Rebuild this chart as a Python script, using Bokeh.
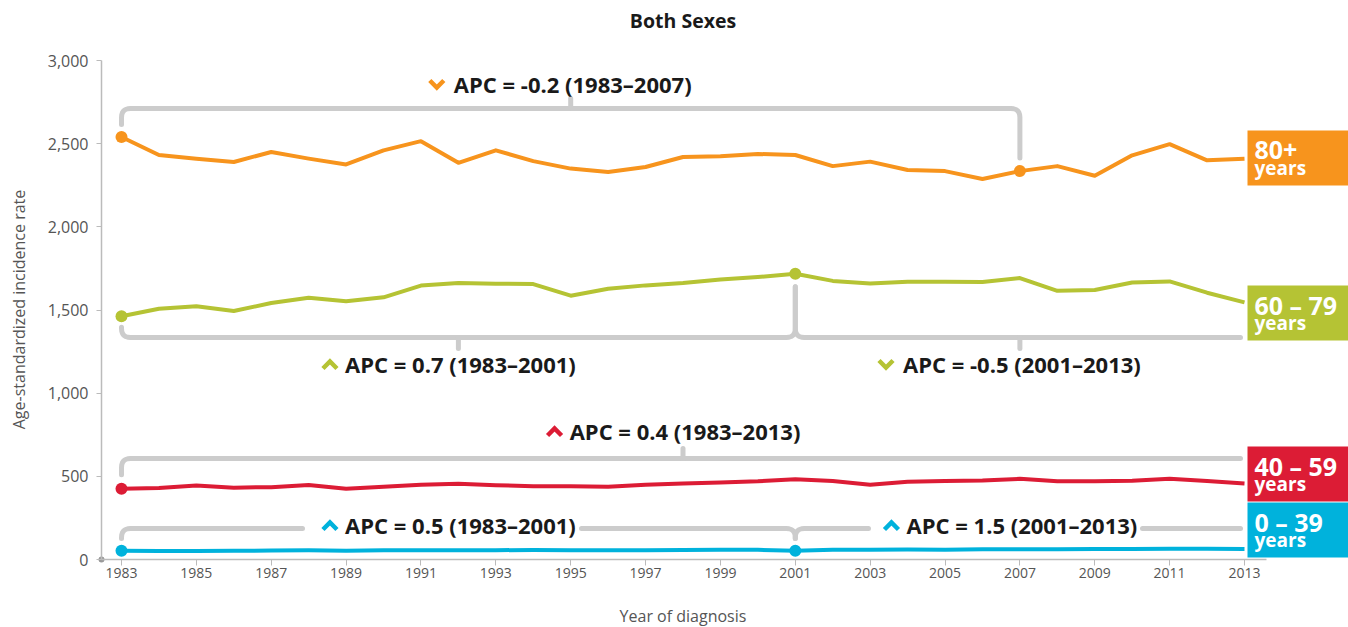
from math import hypot, pi
from bokeh.plotting import figure
from bokeh.models import Range1d, FixedTicker, NumeralTickFormatter
from bokeh.core.properties import value
from bokeh.embed import file_html
from bokeh.resources import INLINE

# ---------------- data ----------------
years = list(range(1983, 2014))
rate_80_plus = [2540, 2432, 2410, 2390, 2450, 2410, 2375, 2460, 2515, 2385, 2460, 2395,
                2350, 2330, 2360, 2420, 2425, 2438, 2432, 2365, 2392, 2342, 2335, 2288,
                2335, 2365, 2307, 2430, 2497, 2400, 2410]
rate_60_79 = [1462, 1508, 1522, 1494, 1542, 1574, 1552, 1576, 1647, 1662, 1658, 1656,
              1586, 1628, 1648, 1662, 1683, 1698, 1718, 1675, 1660, 1670, 1670, 1668,
              1692, 1615, 1620, 1665, 1672, 1604, 1546]
rate_40_59 = [425, 430, 445, 432, 435, 448, 425, 437, 450, 455, 447, 440, 441, 437, 450,
              457, 463, 470, 482, 472, 450, 467, 472, 475, 485, 470, 470, 473, 485, 472, 457]
rate_0_39 = [52, 51, 51, 52, 54, 55, 53, 55, 56, 55, 56, 57, 56, 55, 56, 57, 58, 58, 53,
             58, 59, 60, 59, 61, 61, 62, 63, 63, 64, 64, 63]

age_groups = ["80+", "60 \u2013 79", "40 \u2013 59", "0 \u2013 39"]
group_colors = ["#F7941D", "#B5C334", "#DC1C35", "#00B2DC"]
group_rates = [rate_80_plus, rate_60_79, rate_40_59, rate_0_39]

# APC segments
apc_group = [0, 1, 1, 2, 3, 3]
apc_start = [1983, 1983, 2001, 1983, 1983, 2001]
apc_end = [2007, 2001, 2013, 2013, 2001, 2013]
apc_value = [-0.2, 0.7, -0.5, 0.4, 0.5, 1.5]
joinpoints = [[1983, 2007], [1983, 2001], [1983], [1983, 2001]]

x_ticks = list(range(1983, 2014, 2))
y_ticks = [0, 500, 1000, 1500, 2000, 2500, 3000]

chart_title = "Both Sexes"
x_title = "Year of diagnosis"
y_title = "Age-standardized incidence rate"

# ---------------- geometry helpers (canvas pixel frame) ----------------
W, H = 1348, 627
PXY = (1244 - 121) / 30.0      # px per year
PYU = 499 / 3000.0             # px per unit


def px_to_x(px):
    return 1983 + (px - 121) / PXY


def py_to_y(py):
    return (559 - py) / PYU


def x_to_px(x):
    return 121 + (x - 1983) * PXY


def y_to_py(y):
    return 559 - y * PYU


AXIS_X0 = px_to_x(101)
AXIS_X1 = px_to_x(1266)


def rate_at(gi, yr):
    return group_rates[gi][years.index(yr)]


def rounded(points, r=7, n=6):
    out = [points[0]]
    for i in range(1, len(points) - 1):
        ax, ay = points[i - 1]
        cx, cy = points[i]
        bx, by = points[i + 1]
        la = hypot(ax - cx, ay - cy)
        lb = hypot(bx - cx, by - cy)
        rr = min(r, la * 0.9, lb * 0.9)
        sx, sy = cx + (ax - cx) / la * rr, cy + (ay - cy) / la * rr
        ex, ey = cx + (bx - cx) / lb * rr, cy + (by - cy) / lb * rr
        for k in range(n + 1):
            t = k / n
            qx = (1 - t) ** 2 * sx + 2 * (1 - t) * t * cx + t * t * ex
            qy = (1 - t) ** 2 * sy + 2 * (1 - t) * t * cy + t * t * ey
            out.append((qx, qy))
    out.append(points[-1])
    return [px_to_x(p[0]) for p in out], [py_to_y(p[1]) for p in out]


# ---------------- figure ----------------
p = figure(width=W, height=H, output_backend="svg", toolbar_location=None,
           x_range=Range1d(px_to_x(0), px_to_x(W)), y_range=Range1d(py_to_y(H), py_to_y(0)),
           min_border_left=0, min_border_right=0, min_border_top=0, min_border_bottom=0)
p.outline_line_color = None
p.grid.visible = False
p.background_fill_color = "white"
p.border_fill_color = "white"

axis_gray = "#BBBBBB"
label_gray = "#555555"
for ax in (p.xaxis[0], p.yaxis[0]):
    ax.axis_line_color = axis_gray
    ax.axis_line_width = 1.5
    ax.major_tick_line_color = axis_gray
    ax.major_tick_line_width = 1
    ax.minor_tick_line_color = None
    ax.major_tick_in = 0
    ax.major_label_text_font = "Open Sans"
    ax.major_label_text_color = label_gray
    ax.axis_label_text_font = "Open Sans"
    ax.axis_label_text_font_style = "normal"
    ax.axis_label_text_color = label_gray
    ax.axis_label_text_font_size = "16px"

p.xaxis.fixed_location = 0
p.xaxis.ticker = FixedTicker(ticks=x_ticks)
p.xaxis.bounds = (AXIS_X0, AXIS_X1)
p.xaxis.major_tick_out = 6
p.xaxis.major_label_standoff = 2
p.xaxis.major_label_text_font_size = "14px"

p.yaxis.fixed_location = AXIS_X0
p.yaxis.ticker = FixedTicker(ticks=y_ticks)
p.yaxis.bounds = (0, 3000)
p.yaxis.formatter = NumeralTickFormatter(format="0,0")
p.yaxis.major_tick_out = 5
p.yaxis.major_label_standoff = 8
p.yaxis.major_label_text_font_size = "16px"

TXT = dict(text_font=value("Open Sans"))

# title and axis titles
p.text([px_to_x(682.5)], [py_to_y(19.5)], text=[chart_title], text_align="center",
       text_baseline="middle", text_font_style="bold", text_font_size="19.5px",
       text_color="#1a1a1a", **TXT)
p.text([px_to_x(682.5)], [py_to_y(615)], text=[x_title], text_align="center",
       text_baseline="middle", text_font_size="16px", text_color=label_gray, **TXT)
p.text([px_to_x(18.5)], [py_to_y(309)], text=[y_title], text_align="center",
       text_baseline="middle", text_font_size="16px", text_color=label_gray,
       angle=pi / 2, **TXT)

# origin marker
p.scatter([AXIS_X0], [0], size=6, fill_color="#999999", line_color=None)

# ---------------- brackets ----------------
BR = dict(line_color="#CCCCCC", line_width=5, line_cap="round", line_join="round")
paths = []
# 80+
lvl = 108
paths.append([(x_to_px(1983), 124), (x_to_px(1983), lvl), (x_to_px(2007), lvl),
              (x_to_px(2007), y_to_py(rate_at(0, 2007)) - 13)])
paths.append([(x_to_px(1995), lvl), (x_to_px(1995), lvl - 10)])
# 60-79
lvl = 337
paths.append([(x_to_px(1983), y_to_py(rate_at(1, 1983)) + 11), (x_to_px(1983), lvl),
              (x_to_px(2001), lvl), (x_to_px(2001), y_to_py(rate_at(1, 2001)) + 13)])
paths.append([(x_to_px(2001), y_to_py(rate_at(1, 2001)) + 13), (x_to_px(2001), lvl), (1240, lvl)])
paths.append([(x_to_px(1992), lvl), (x_to_px(1992), lvl + 11)])
paths.append([(x_to_px(2007), lvl), (x_to_px(2007), lvl + 11)])
# 40-59
lvl = 458
paths.append([(x_to_px(1983), y_to_py(rate_at(2, 1983)) - 14), (x_to_px(1983), lvl), (1240, lvl)])
paths.append([(x_to_px(1998), lvl), (x_to_px(1998), lvl - 10)])
# 0-39
lvl = 528
paths.append([(x_to_px(1983), 538), (x_to_px(1983), lvl), (302, lvl)])
paths.append([(581, lvl), (x_to_px(2001), lvl), (x_to_px(2001), 538)])
paths.append([(x_to_px(2001), 538), (x_to_px(2001), lvl), (868, lvl)])
paths.append([(1142, lvl), (1240, lvl)])

for pts in paths:
    xs, ys = rounded(pts, r=9)
    p.line(xs, ys, **BR)

# ---------------- series lines ----------------
for gi, rates in enumerate(group_rates):
    p.line(years, rates, line_color=group_colors[gi], line_width=4, line_join="round")
    jy = [rate_at(gi, y) for y in joinpoints[gi]]
    p.scatter(joinpoints[gi], jy, size=12, fill_color=group_colors[gi], line_color=None)

# ---------------- APC labels ----------------
label_dy = [-25, 26, 26, -28, -4, -4]
levels = [108, 337, 337, 458, 528, 528]
for k in range(len(apc_value)):
    gi = apc_group[k]
    txt = "APC = %s (%d\u2013%d)" % (apc_value[k], apc_start[k], apc_end[k])
    cx = (x_to_px(apc_start[k]) + x_to_px(apc_end[k])) / 2 + 2
    cy = levels[k] + label_dy[k]
    p.text([px_to_x(cx)], [py_to_y(cy)], text=[txt], text_align="center", text_baseline="middle",
           text_font_style="bold", text_font_size="22px", text_color="#1a1a1a", **TXT)
    half = len(txt) * 5.45
    chx = cx - half - 16
    if apc_value[k] < 0:
        pts = [(chx - 7, cy - 3), (chx, cy + 4), (chx + 7, cy - 3)]
    else:
        pts = [(chx - 7, cy + 5), (chx, cy - 2), (chx + 7, cy + 5)]
    p.line([px_to_x(a) for a, b in pts], [py_to_y(b) for a, b in pts],
           line_color=group_colors[gi], line_width=4.5, line_join="miter")

# ---------------- right-hand group boxes ----------------
box_tops = [130, 285, 446, 502]
p.quad(left=[px_to_x(1247)] * 4, right=[px_to_x(W + 2)] * 4,
       top=[py_to_y(t) for t in box_tops], bottom=[py_to_y(t + 55) for t in box_tops],
       fill_color=group_colors, line_color=None)
p.text([px_to_x(1254)] * 4, [py_to_y(t + 19) for t in box_tops], text=age_groups,
       text_align="left", text_baseline="middle", text_color="white",
       text_font_style="bold", text_font_size="25px", **TXT)
p.text([px_to_x(1254)] * 4, [py_to_y(t + 37) for t in box_tops], text=["years"] * 4,
       text_align="left", text_baseline="middle", text_color="white",
       text_font_style="bold", text_font_size="19px", **TXT)

open("out.html", "w").write(file_html(p, INLINE))
